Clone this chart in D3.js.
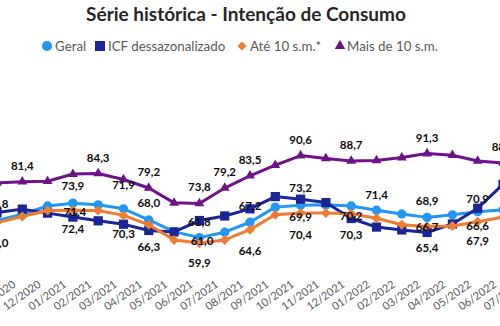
<!DOCTYPE html>
<html>
<head>
<meta charset="utf-8">
<script src="https://cdn.jsdelivr.net/npm/d3@7"></script>
<style>
body { margin: 0; background: #fff; }
svg { display: block; font-family: Lato, 'Open Sans', sans-serif; }
</style>
</head>
<body>
<svg id="chart" width="500" height="326"></svg>
<script>
var months = ['11/2020','12/2020','01/2021','02/2021','03/2021','04/2021','05/2021','06/2021',
    '07/2021','08/2021','09/2021','10/2021','11/2021','12/2021','01/2022','02/2022','03/2022',
    '04/2022','05/2022','06/2022','07/2022'];

var geral     = [67.8, 70.0, 72.9, 73.9, 73.3, 71.9, 68.0, 63.9, 61.8, 63.7, 67.2, 72.5, 73.2, 73.3, 72.9, 71.4, 70.1, 68.9, 69.8, 70.9, 71.6];
var icfDessaz = [70.6, 71.8, 70.4, 69.0, 67.7, 66.5, 64.3, 63.8, 67.8, 69.4, 71.9, 76.2, 75.3, 74.1, 68.5, 65.5, 64.5, 63.6, 66.6, 72.1, 80.5];
var ate10     = [67.0, 69.2, 71.3, 71.4, 71.3, 69.6, 66.3, 61.0, 59.9, 61.0, 64.6, 69.8, 70.4, 70.4, 70.2, 68.6, 66.3, 65.7, 65.9, 67.4, 69.0];
var mais10    = [81.0, 81.4, 81.6, 84.1, 84.3, 82.2, 79.2, 74.0, 73.8, 79.2, 83.5, 87.2, 90.6, 89.6, 88.7, 88.9, 89.9, 91.3, 90.7, 88.7, 88.0];

var seriesNames = ['Geral', 'ICF dessazonalizado', 'Até 10 s.m.*', 'Mais de 10 s.m.'];

// data labels: series index, month index, text
var labelPoints = [
    [3,1,'81,4'],[3,4,'84,3'],[3,6,'79,2'],[3,8,'73,8'],[3,9,'79,2'],[3,10,'83,5'],
    [3,12,'90,6'],[3,14,'88,7'],[3,17,'91,3'],[3,20,'88,0'],
    [0,0,'67,8'],[0,3,'73,9'],[0,5,'71,9'],[0,6,'68,0'],[0,8,'61,8'],[0,10,'67,2'],
    [0,12,'73,2'],[0,15,'71,4'],[0,17,'68,9'],[0,19,'70,9'],
    [2,0,'67,0'],[2,3,'72,4'],[2,5,'70,3'],[2,6,'66,3'],[2,8,'59,9'],[2,10,'64,6'],
    [2,12,'70,4'],[2,14,'70,3'],[2,17,'65,4'],[2,19,'67,9'],
    [2,3,'71,4'],[2,7,'61,0'],[2,12,'69,9'],[2,14,'70,2'],[2,17,'66,7'],[2,19,'66,6']
];
// pixel offsets of each label from its point
var labelOffsets = [
    [0,-16],[0,-16],[0,-16],[0,-16],[0,-16],[0,-16],[0,-16],[0,-16],[0,-16],[0,-16],
    [0,-17],[0,-17],[0,-24],[0,-17],[0,-16],[0,-16],[0,-17],[0,-15],[0,-16],[0,-13],
    [0,20],[0,19],[0,19],[0,22],[0,20],[0,21],[0,22],[0,21],[0,21],[0,19],
    [2,2],[28,1],[0,4],[0,2],[0,0],[0,4]
];

var colors = ['#2196f3', '#1a2596', '#ed7d31', '#6e1289'];
var allSeries = [geral, icfDessaz, ate10, mais10];

var svg = d3.select('#chart');

var x = d3.scalePoint()
    .domain(months)
    .range([-3, 503]);

var y = d3.scaleLinear()
    .domain([55, 95])
    .range([257, 143]);

// title
svg.append('text')
    .attr('x', 246)
    .attr('y', 21)
    .attr('text-anchor', 'middle')
    .attr('font-size', 19)
    .attr('font-weight', 'bold')
    .attr('fill', '#262626')
    .text('Série histórica - Intenção de Consumo');

function marker(sel, k, size) {
    if (k == 0) {
        sel.attr('d', d3.symbol().type(d3.symbolCircle).size(size || 68));
    } else if (k == 1) {
        sel.attr('d', d3.symbol().type(d3.symbolSquare).size(size || 85));
    } else if (k == 2) {
        sel.attr('d', d3.symbol().type(d3.symbolSquare).size(size || 50));
    } else {
        sel.attr('d', d3.symbol().type(d3.symbolTriangle).size(size || 42));
    }
}

// legend
var legendX = [47, 100, 242, 340];
seriesNames.forEach(function (name, k) {
    var m = svg.append('path')
        .attr('fill', colors[k]);
    marker(m, k, [80, 100, 40, 48][k]);
    m.attr('transform', 'translate(' + legendX[k] + ',46)' + (k == 2 ? ' rotate(45)' : ''));
    svg.append('text')
        .attr('x', legendX[k] + (k == 3 ? 7 : 8))
        .attr('y', 51)
        .attr('font-size', 13.3)
        .attr('fill', '#595959')
        .text(name);
});

// lines and markers
var line = d3.line()
    .x(function (d, i) { return x(months[i]); })
    .y(function (d) { return y(d); });

allSeries.forEach(function (values, k) {
    svg.append('path')
        .datum(values)
        .attr('d', line)
        .attr('fill', 'none')
        .attr('stroke', colors[k])
        .attr('stroke-width', 3)
        .attr('stroke-linejoin', 'round');

    var pts = svg.append('g')
        .selectAll('path')
        .data(values)
        .enter()
        .append('path')
        .attr('fill', colors[k]);
    marker(pts, k);
    pts.attr('transform', function (d, i) {
        return 'translate(' + x(months[i]) + ',' + y(d) + ')' + (k == 2 ? ' rotate(45)' : '');
    });
});

// data labels
svg.append('g')
    .selectAll('text')
    .data(labelPoints)
    .enter()
    .append('text')
    .attr('x', function (d, j) { return x(months[d[1]]) + labelOffsets[j][0]; })
    .attr('y', function (d, j) { return y(allSeries[d[0]][d[1]]) + labelOffsets[j][1]; })
    .attr('dy', '0.35em')
    .attr('text-anchor', 'middle')
    .attr('font-size', 11.5)
    .attr('font-weight', 'bold')
    .attr('fill', '#0d0d0d')
    .text(function (d) { return d[2]; });

// x axis tick labels
svg.append('g')
    .selectAll('text')
    .data(months)
    .enter()
    .append('text')
    .attr('transform', function (d) {
        return 'translate(' + (x(d) + 19.5) + ',286) rotate(-35)';
    })
    .attr('text-anchor', 'end')
    .attr('font-size', 11)
    .attr('fill', '#595959')
    .text(function (d) { return d; });
</script>
</body>
</html>
